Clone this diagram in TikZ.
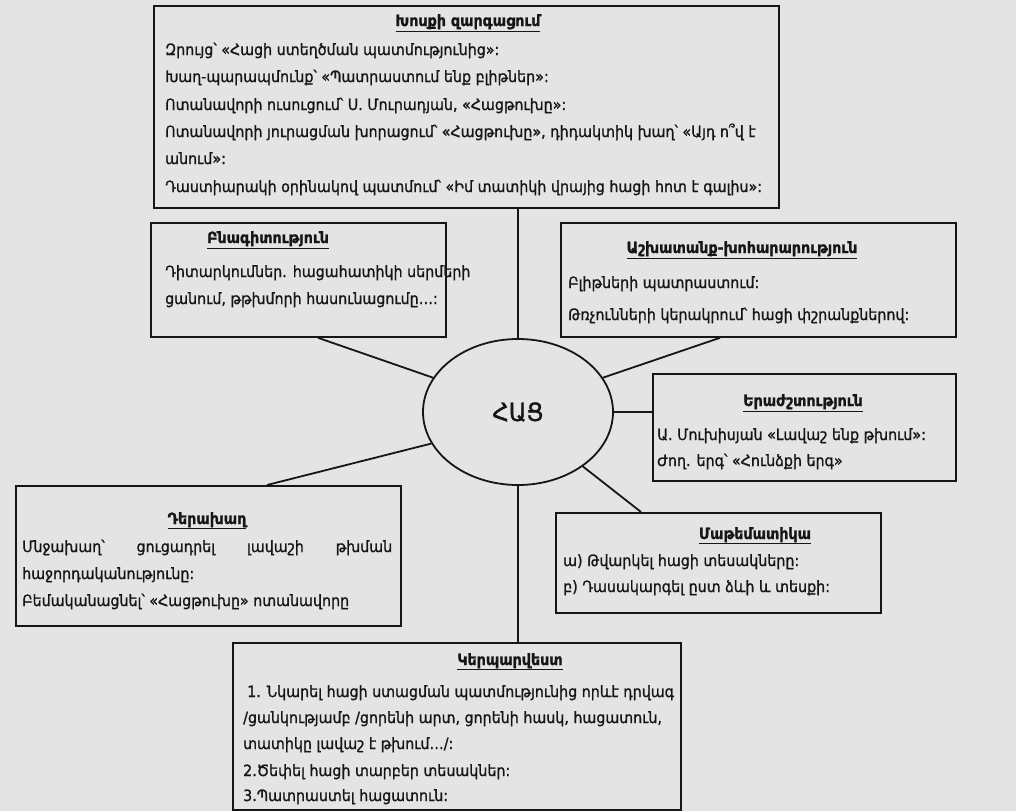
\documentclass[tikz,border=0pt]{standalone}
\usepackage{fontspec}
\setmainfont{DejaVu Sans}[FakeStretch=0.92, FakeBold=1.2]
\usetikzlibrary{shapes.geometric,calc}
\definecolor{bg}{RGB}{228,228,228}
\definecolor{ink}{RGB}{22,22,22}
\tikzset{
  box/.style={draw=ink, line width=1.8pt, anchor=north west, inner sep=0pt},
  link/.style={draw=ink, line width=1.8pt},
  ln/.style={anchor=base west, inner sep=0pt, text=ink, font=\fontsize{15.5}{18}\selectfont},
  ttl/.style={anchor=base, inner sep=0pt, text=ink, font=\bfseries\fontsize{15.5}{18}\selectfont},
}
\begin{document}
\begin{tikzpicture}[x=1pt,y=-1pt]
\useasboundingbox (0,0) rectangle (1016,811);
\fill[bg] (0,0) rectangle (1016,811);

% boxes
\node[box, minimum width=625pt, minimum height=202pt] (top) at (153,5) {};
\node[box, minimum width=295pt, minimum height=114pt] (B) at (150,222) {};
\node[box, minimum width=395pt, minimum height=114pt] (A) at (560,222) {};
\node[box, minimum width=303pt, minimum height=107pt] (E) at (652,373) {};
\node[box, minimum width=385pt, minimum height=140pt] (D) at (15,485) {};
\node[box, minimum width=325pt, minimum height=100pt] (M) at (555,512) {};
\node[box, minimum width=448pt, minimum height=167pt] (K) at (232,642) {};

% centre
\node[ellipse, draw=ink, line width=1.8pt, minimum width=190pt, minimum height=146pt, inner sep=0pt,
      text=ink, font=\fontsize{25}{28}\selectfont] (hac) at (518,412) {ՀԱՑ};

% connectors
\draw[link] ([xshift=365pt]top.south west) -- (hac.north);
\draw[link] ([xshift=168pt]B.south west) -- (hac.158);
\draw[link] ([xshift=160pt]A.south west) -- (hac.22);
\draw[link] (hac.east) -- (hac.east -| E.west);
\draw[link] (hac.200) -- ([xshift=252pt]D.north west);
\draw[link] (hac.south) -- ([xshift=286pt]K.north west);
\draw[link] (hac.-40) -- ([xshift=86pt]M.north west);

% top box text
\node[ttl] (t0) at (468,26) {\underline{Խոսքի զարգացում}};
\node[ln] (t1) at (165,55) {Զրույց՝ «Հացի ստեղծման պատմությունից»:};
\node[ln] (t2) at (165,82) {Խաղ-պարապմունք՝ «Պատրաստում ենք բլիթներ»:};
\node[ln] (t3) at (165,110) {Ոտանավորի ուսուցում՝ Ս. Մուրադյան, «Հացթուխը»:};
\node[ln] (t4) at (165,137) {Ոտանավորի յուրացման խորացում՝ «Հացթուխը», դիդակտիկ խաղ՝ «Այդ ո՞վ է};
\node[ln] (t5) at (165,164) {անում»:};
\node[ln] (t6) at (165,192) {Դաստիարակի օրինակով պատմում՝ «Իմ տատիկի վրայից հացի հոտ է գալիս»:};

% B
\node[ttl] (b0) at (268,243) {\underline{Բնագիտություն}};
\node[ln] (b1) at (165,277) {Դիտարկումներ. հացահատիկի սերմերի};
\node[ln] (b2) at (165,304) {ցանում, թթխմորի հասունացումը…:};

% A
\node[ttl] (a0) at (742,253) {\underline{Աշխատանք-խոհարարություն}};
\node[ln] (a1) at (568,288) {Բլիթների պատրաստում:};
\node[ln] (a2) at (568,320) {Թռչունների կերակրում՝ հացի փշրանքներով:};

% E
\node[ttl] (e0) at (803,406) {\underline{Երաժշտություն}};
\node[ln] (e1) at (657,440) {Ա. Մուխիսյան «Լավաշ ենք թխում»:};
\node[ln] (e2) at (657,466) {Ժող. երգ՝ «Հունձքի երգ»};

% D
\node[ttl] (d0) at (207,524) {\underline{Դերախաղ}};
\node[ln] (d1) at (22,552) {\makebox[370pt][s]{Մնջախաղ՝\hfill ցուցադրել\hfill լավաշի\hfill թխման}};
\node[ln] (d2) at (22,579) {հաջորդականությունը:};
\node[ln] (d3) at (22,606) {Բեմականացնել՝ «Հացթուխը» ոտանավորը};

% M
\node[ttl] (m0) at (755,539) {\underline{Մաթեմատիկա}};
\node[ln] (m1) at (563,566) {ա) Թվարկել հացի տեսակները:};
\node[ln] (m2) at (563,592) {բ) Դասակարգել ըստ ձևի և տեսքի:};

% K
\node[ttl] (k0) at (510,665) {\underline{Կերպարվեստ}};
\node[ln] (k1) at (247,697) {1. Նկարել հացի ստացման պատմությունից որևէ դրվագ};
\node[ln] (k2) at (243,723) {/ցանկությամբ /ցորենի արտ, ցորենի հասկ, հացատուն,};
\node[ln] (k3) at (243,749) {տատիկը լավաշ է թխում…/:};
\node[ln] (k4) at (243,776) {2.Ծեփել հացի տարբեր տեսակներ:};
\node[ln] (k5) at (243,801) {3.Պատրաստել հացատուն:};
\end{tikzpicture}
\end{document}
